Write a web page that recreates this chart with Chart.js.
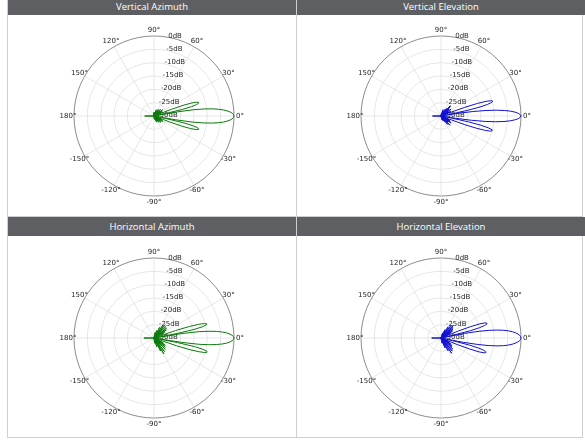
<!DOCTYPE html>
<html>
<head>
<meta charset="utf-8">
<script src="https://cdn.jsdelivr.net/npm/chart.js@4.4.1/dist/chart.umd.min.js"></script>
<style>
  body { margin: 0; background: #fff; width: 585px; height: 443px; position: relative; overflow: hidden; }
  .hdr { position: absolute; background: #5e5f63; color: #fff; font: 9.5px "Open Sans", sans-serif; text-align: center; }
  .vline { position: absolute; width: 1px; background: #cfcfcf; top: 0; height: 438px; }
  .hline { position: absolute; height: 1px; background: #cfcfcf; left: 7px; width: 576px; }
  canvas { position: absolute; }
</style>
</head>
<body>
<div class="vline" style="left:7px"></div>
<div class="vline" style="left:296px"></div>
<div class="vline" style="left:582px"></div>
<div class="hline" style="top:216px"></div>
<div class="hline" style="top:437px"></div>

<div class="hdr" style="left:8px;top:0;width:288px;height:15px;line-height:13px">Vertical Azimuth</div>
<div class="hdr" style="left:297px;top:0;width:288px;height:15px;line-height:13px">Vertical Elevation</div>
<div class="hdr" style="left:8px;top:217px;width:288px;height:19px;line-height:19px">Horizontal Azimuth</div>
<div class="hdr" style="left:297px;top:217px;width:288px;height:19px;line-height:19px">Horizontal Elevation</div>

<canvas id="vertAz" width="287" height="201" style="left:8px;top:15px"></canvas>
<canvas id="vertEl" width="285" height="201" style="left:297px;top:15px"></canvas>
<canvas id="horizAz" width="287" height="201" style="left:8px;top:236px"></canvas>
<canvas id="horizEl" width="285" height="201" style="left:297px;top:236px"></canvas>

<script>
// readings in dB, anything not listed sits at the -30 dB floor
const floorDb = -30;
const dbTicks = [0, -5, -10, -15, -20, -25, -30];
const angleTicks = [0, 30, 60, 90, 120, 150, 180, -150, -120, -90, -60, -30];

const vaAngles = [-86, -75, -67, -60, -53, -47, -42, -37, -32, -28, -25,
  -21, -20, -19, -18, -17, -16, -15, -14, -13, -12,
  -10, -9, -8, -7, -6, -5, -4, -3, -2, -1, 0, 1, 2, 3, 4, 5, 6, 7, 8, 9, 10,
  12, 13, 14, 15, 16, 17, 18, 19, 20, 21,
  25, 28, 32, 36, 41, 46, 51, 57, 63, 70, 78, 88, 100, 180];
const vaGain = [-29, -28.5, -27.5, -28, -27, -27.5, -26.5, -27, -26, -26.5, -27,
  -24, -19, -15.6, -13.6, -12.7, -12.5, -13.2, -15, -18.5, -25,
  -22, -15.5, -11.3, -8.2, -5.8, -3.9, -2.5, -1.4, -0.6, -0.2, 0, -0.2, -0.6, -1.4, -2.5, -3.9, -5.7, -8, -11, -15, -21,
  -26, -19, -15.5, -13.5, -12.6, -12.5, -13.2, -15, -18, -23,
  -27.5, -26.5, -27, -26, -27, -26.5, -27.5, -27, -28, -27.5, -28.5, -28.5, -29, -26.5];

const veAngles = [-75, -66, -58, -52, -46, -41, -35, -30, -25,
  -21, -20, -19, -18, -17, -16, -15, -14, -13, -12, -11,
  -9, -8, -7, -6, -5, -4, -3, -2, -1, 0, 1, 2, 3, 4, 5, 6, 7, 8, 9,
  11, 12, 13, 14, 15, 16, 17, 18, 19, 20, 21,
  25, 29, 34, 40, 45, 48, 53, 58, 65, 72, 80, 180];
const veGain = [-28.5, -28, -27.5, -26, -25.2, -26.5, -25.5, -26, -26.5,
  -27, -20.5, -15.8, -12.5, -10.6, -10, -10.2, -11.8, -14.8, -19.5, -26.5,
  -24.5, -18.5, -13.3, -9.4, -6.3, -4, -2.3, -1, -0.3, 0, -0.3, -1, -2.2, -3.9, -6.2, -9.2, -13, -18, -24,
  -27, -20, -15, -12, -10.3, -9.8, -10.4, -12.2, -15.5, -20.5, -27,
  -26, -27, -25.5, -26, -25, -24.8, -26.5, -27, -28, -27.5, -29, -26.8];

const haAngles = [-82, -72, -63, -58, -52, -45, -39, -33, -28,
  -19, -18, -17, -16, -15, -14, -13, -12, -11,
  -9, -8, -7, -6, -5, -4, -3, -2, -1, 0, 1, 2, 3, 4, 5, 6, 7, 8, 9,
  11, 12, 13, 14, 15, 16, 17, 18, 19,
  28, 33, 38, 44, 50, 55, 62, 70, 80, 180];
const haGain = [-28, -26.5, -24.5, -23, -23.5, -24, -24.5, -25, -26,
  -21, -15.8, -12.4, -10.2, -9.4, -9.6, -11.2, -14.5, -21,
  -19.5, -13.2, -9.3, -6.5, -4.3, -2.7, -1.5, -0.7, -0.2, 0, -0.2, -0.7, -1.5, -2.7, -4.3, -6.4, -9.2, -13, -19,
  -22, -15, -11.5, -9.8, -9.5, -10.3, -12.5, -16, -21.5,
  -25.5, -24.5, -24, -23.8, -23.5, -24.5, -25.5, -27, -28, -26.2];

const heAngles = [-77, -68, -61, -55, -49, -43, -37, -32, -27,
  -23, -22, -21, -20, -19, -18, -17, -16, -15, -14, -13,
  -11, -10, -9, -8, -7, -6, -5, -4, -3, -2, -1, 0, 1, 2, 3, 4, 5, 6, 7, 8, 9, 10, 11,
  13, 14, 15, 16, 17, 18, 19, 20, 21, 22,
  27, 31, 36, 41, 46, 51, 57, 64, 72, 180];
const heGain = [-28, -26, -24.5, -23, -23.5, -24, -24.8, -25.5, -26.5,
  -29, -23.5, -18.5, -14.8, -12.9, -12.3, -12.5, -13.3, -15.3, -19, -25.5,
  -21.5, -16, -11.8, -8.8, -6.4, -4.6, -3.2, -2.1, -1.2, -0.5, -0.15, 0, -0.15, -0.5, -1.1, -2, -3.1, -4.5, -6.3, -8.6, -11.5, -15.5, -21,
  -25, -18.5, -15, -13, -12, -11.9, -12.6, -14.5, -18, -23,
  -26, -25, -24.5, -24, -23.3, -24, -25, -26.5, -28, -26.5];

// one label per degree, going clockwise from 0° (east)
const labels = [];
for (let i = 0; i < 360; i++) {
  let a = -i;
  if (a <= -180) a += 360;
  labels.push(a);
}

function buildSeries(angles, gains) {
  return labels.map(function(a) {
    const idx = angles.indexOf(a);
    return idx >= 0 ? Math.max(gains[idx], floorDb) : floorDb;
  });
}

// polar labels, drawn under the traces
const polarLabels = {
  id: 'polarLabels',
  beforeDatasetsDraw(chart) {
    const s = chart.scales.r;
    const ctx = chart.ctx;
    ctx.save();
    ctx.font = '7px "DejaVu Sans"';
    ctx.fillStyle = '#262626';
    ctx.textBaseline = 'middle';
    ctx.textAlign = 'center';
    const rr = s.drawingArea + 6;
    angleTicks.forEach(function(a) {
      const t = a * Math.PI / 180;
      ctx.fillText(a + '°', s.xCenter + rr * Math.cos(t), s.yCenter - rr * Math.sin(t));
    });
    ctx.textAlign = 'left';
    dbTicks.forEach(function(v) {
      const r = s.getDistanceFromCenterForValue(v);
      ctx.fillText(v + 'dB', s.xCenter + 3 + r * 0.14, s.yCenter - r * 0.99 - 1);
    });
    ctx.restore();
  }
};

function makeChart(id, angles, gains, color, pad) {
  new Chart(document.getElementById(id), {
    type: 'radar',
    data: {
      labels: labels,
      datasets: [{
        data: buildSeries(angles, gains),
        borderColor: color,
        borderWidth: 1,
        pointRadius: 0,
        fill: false,
        tension: 0
      }]
    },
    options: {
      responsive: false,
      animation: false,
      layout: { padding: pad },
      plugins: { legend: { display: false }, tooltip: { enabled: false } },
      scales: {
        r: {
          min: -30,
          max: 0,
          startAngle: 90,
          ticks: { stepSize: 5, display: false },
          pointLabels: { display: false },
          grid: {
            circular: true,
            color: ctx => ctx.tick && ctx.tick.value === 0 ? '#5a5a5a' : '#dddddd',
            lineWidth: ctx => ctx.tick && ctx.tick.value === 0 ? 0.7 : 0.7
          },
          angleLines: {
            color: ctx => ctx.index % 30 === 0 ? '#dddddd' : 'rgba(0,0,0,0)',
            lineWidth: ctx => ctx.index % 30 === 0 ? 0.7 : 0
          }
        }
      }
    },
    plugins: [polarLabels]
  });
}

makeChart('vertAz', vaAngles, vaGain, '#0a7a0a', { top: 21, bottom: 20, left: 5, right: 0 });
makeChart('vertEl', veAngles, veGain, '#1010d0', { top: 21, bottom: 20, left: 3, right: 0 });
makeChart('horizAz', haAngles, haGain, '#0a7a0a', { top: 22, bottom: 19, left: 5, right: 0 });
makeChart('horizEl', heAngles, heGain, '#1010d0', { top: 22, bottom: 19, left: 3, right: 0 });
</script>
</body>
</html>
